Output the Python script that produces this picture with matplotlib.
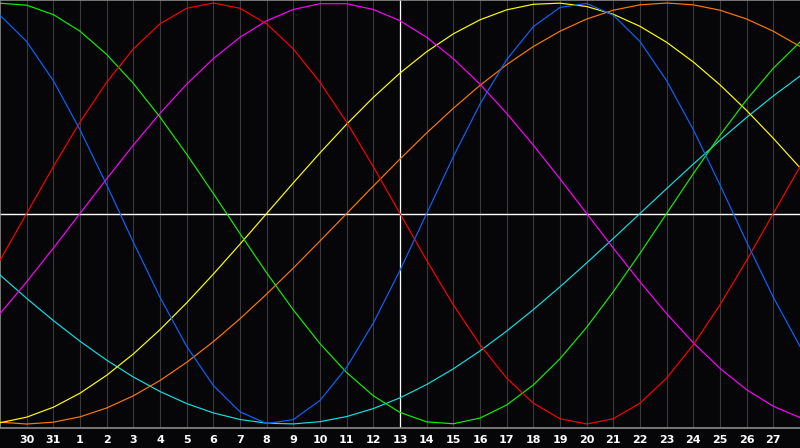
import matplotlib
matplotlib.use("Agg")
import matplotlib.pyplot as plt

# x positions: day 29 of previous month .. day 28 (one column per day)
DAY_INDEX = list(range(31))
DAY_LABELS = ["30", "31"] + [str(d) for d in range(1, 28)]
TODAY_INDEX = 15  # day 13, white marker line

# cycle values per day, -1 .. 1
PHYSICAL = [0.942, 0.817, 0.631, 0.398, 0.136, -0.136, -0.398, -0.631, -0.817, -0.942,
            -0.998, -0.979, -0.888, -0.731, -0.520, -0.270, 0.0, 0.270, 0.520, 0.731,
            0.888, 0.979, 0.998, 0.942, 0.817, 0.631, 0.398, 0.136, -0.136, -0.398, -0.631]
EMOTIONAL = [-0.2225, 0.0, 0.2225, 0.4339, 0.6235, 0.7818, 0.9010, 0.9749, 1.0, 0.9749,
             0.9010, 0.7818, 0.6235, 0.4339, 0.2225, 0.0, -0.2225, -0.4339, -0.6235, -0.7818,
             -0.9010, -0.9749, -1.0, -0.9749, -0.9010, -0.7818, -0.6235, -0.4339, -0.2225, 0.0, 0.2225]
INTELLECTUAL = [0.9989, 0.9898, 0.9450, 0.8660, 0.7557, 0.6182, 0.4582, 0.2817, 0.0951, -0.0951,
                -0.2817, -0.4582, -0.6182, -0.7557, -0.8660, -0.9450, -0.9898, -0.9989, -0.9718, -0.9096,
                -0.8146, -0.6901, -0.5406, -0.3717, -0.1893, 0.0, 0.1893, 0.3717, 0.5406, 0.6901, 0.8146]
INTUITIVE = [-0.4759, -0.3247, -0.1646, 0.0, 0.1646, 0.3247, 0.4759, 0.6142, 0.7357, 0.8372,
             0.9158, 0.9694, 0.9966, 0.9966, 0.9694, 0.9158, 0.8372, 0.7357, 0.6142, 0.4759,
             0.3247, 0.1646, 0.0, -0.1646, -0.3247, -0.4759, -0.6142, -0.7357, -0.8372, -0.9158, -0.9694]
AESTHETIC = [-0.9940, -0.9675, -0.9203, -0.8536, -0.7686, -0.6673, -0.5517, -0.4244, -0.2881, -0.1456,
             0.0, 0.1456, 0.2881, 0.4244, 0.5517, 0.6673, 0.7686, 0.8536, 0.9203, 0.9675,
             0.9940, 0.9993, 0.9834, 0.9464, 0.8893, 0.8133, 0.7199, 0.6112, 0.4894, 0.3572, 0.2174]
AWARENESS = [-0.9914, -1.0, -0.9914, -0.9659, -0.9239, -0.8660, -0.7934, -0.7071, -0.6088, -0.5,
             -0.3827, -0.2588, -0.1305, 0.0, 0.1305, 0.2588, 0.3827, 0.5, 0.6088, 0.7071,
             0.7934, 0.8660, 0.9239, 0.9659, 0.9914, 1.0, 0.9914, 0.9659, 0.9239, 0.8660, 0.7934]
SPIRITUAL = [-0.2920, -0.4031, -0.5086, -0.6068, -0.6967, -0.7767, -0.8457, -0.9028, -0.9473, -0.9786,
             -0.9961, -0.9996, -0.9890, -0.9646, -0.9267, -0.8757, -0.8125, -0.7379, -0.6529, -0.5586,
             -0.4566, -0.3482, -0.2349, -0.1183, 0.0, 0.1183, 0.2349, 0.3482, 0.4566, 0.5586, 0.6529]

SERIES = [
    (SPIRITUAL, "#10e0e0"),
    (AWARENESS, "#ff7800"),
    (AESTHETIC, "#ffff00"),
    (INTUITIVE, "#ff00ff"),
    (INTELLECTUAL, "#10f000"),
    (EMOTIONAL, "#ff0000"),
    (PHYSICAL, "#0a64ff"),
]

BG = "#060609"

fig = plt.figure(figsize=(8.0, 4.48), dpi=100, facecolor=BG)
ax = fig.add_axes([0.0, 20 / 448, 1.0, 428 / 448])
ax.set_facecolor(BG)

ax.set_xlim(0, 30)
ax.set_ylim(-1.019, 1.0143)

for i in range(1, 30):
    ax.axvline(i, color="#3a3a3e", linewidth=0.8, zorder=1)
ax.axhline(0, color="white", linewidth=1.0, zorder=2)
ax.axvline(TODAY_INDEX, color="white", linewidth=0.9, zorder=2)

for values, color in SERIES:
    ax.plot(DAY_INDEX, values, color=color, linewidth=0.85, zorder=3)

for side in ("left", "top", "bottom"):
    ax.spines[side].set_color("#8a8a8a")
    ax.spines[side].set_linewidth(1.2)
ax.spines["right"].set_visible(False)

ax.set_yticks([])
ax.set_xticks(range(1, 30))
ax.set_xticklabels(DAY_LABELS, color="white", fontsize=8, fontweight="bold",
                   family="DejaVu Sans")
ax.tick_params(axis="x", length=0, pad=5)

fig.savefig("out.png", dpi=100, facecolor=BG)
